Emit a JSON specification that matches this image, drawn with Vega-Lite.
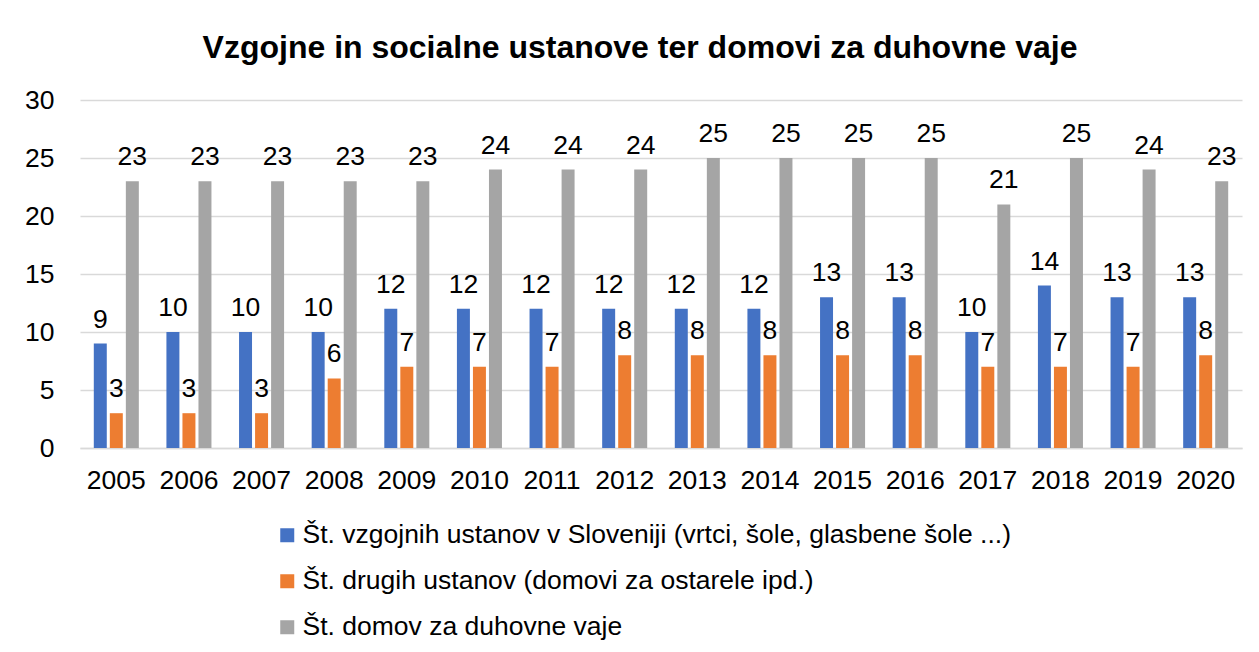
{
  "$schema": "https://vega.github.io/schema/vega-lite/v6.json",
  "width": 1162,
  "height": 348,
  "autosize": {"type": "none"},
  "padding": {"left": 80, "top": 100, "right": 17, "bottom": 204},
  "background": "white",
  "title": {
    "text": "Vzgojne in socialne ustanove ter domovi za duhovne vaje",
    "fontSize": 32,
    "fontWeight": "bold",
    "color": "#000000",
    "anchor": "middle",
    "frame": "group",
    "dx": -21,
    "offset": 22
  },
  "data": {
    "values": [
      {"year": "2005", "series": "Št. vzgojnih ustanov v Sloveniji (vrtci, šole, glasbene šole ...)", "value": 9},
      {"year": "2006", "series": "Št. vzgojnih ustanov v Sloveniji (vrtci, šole, glasbene šole ...)", "value": 10},
      {"year": "2007", "series": "Št. vzgojnih ustanov v Sloveniji (vrtci, šole, glasbene šole ...)", "value": 10},
      {"year": "2008", "series": "Št. vzgojnih ustanov v Sloveniji (vrtci, šole, glasbene šole ...)", "value": 10},
      {"year": "2009", "series": "Št. vzgojnih ustanov v Sloveniji (vrtci, šole, glasbene šole ...)", "value": 12},
      {"year": "2010", "series": "Št. vzgojnih ustanov v Sloveniji (vrtci, šole, glasbene šole ...)", "value": 12},
      {"year": "2011", "series": "Št. vzgojnih ustanov v Sloveniji (vrtci, šole, glasbene šole ...)", "value": 12},
      {"year": "2012", "series": "Št. vzgojnih ustanov v Sloveniji (vrtci, šole, glasbene šole ...)", "value": 12},
      {"year": "2013", "series": "Št. vzgojnih ustanov v Sloveniji (vrtci, šole, glasbene šole ...)", "value": 12},
      {"year": "2014", "series": "Št. vzgojnih ustanov v Sloveniji (vrtci, šole, glasbene šole ...)", "value": 12},
      {"year": "2015", "series": "Št. vzgojnih ustanov v Sloveniji (vrtci, šole, glasbene šole ...)", "value": 13},
      {"year": "2016", "series": "Št. vzgojnih ustanov v Sloveniji (vrtci, šole, glasbene šole ...)", "value": 13},
      {"year": "2017", "series": "Št. vzgojnih ustanov v Sloveniji (vrtci, šole, glasbene šole ...)", "value": 10},
      {"year": "2018", "series": "Št. vzgojnih ustanov v Sloveniji (vrtci, šole, glasbene šole ...)", "value": 14},
      {"year": "2019", "series": "Št. vzgojnih ustanov v Sloveniji (vrtci, šole, glasbene šole ...)", "value": 13},
      {"year": "2020", "series": "Št. vzgojnih ustanov v Sloveniji (vrtci, šole, glasbene šole ...)", "value": 13},
      {"year": "2005", "series": "Št. drugih ustanov (domovi za ostarele ipd.)", "value": 3},
      {"year": "2006", "series": "Št. drugih ustanov (domovi za ostarele ipd.)", "value": 3},
      {"year": "2007", "series": "Št. drugih ustanov (domovi za ostarele ipd.)", "value": 3},
      {"year": "2008", "series": "Št. drugih ustanov (domovi za ostarele ipd.)", "value": 6},
      {"year": "2009", "series": "Št. drugih ustanov (domovi za ostarele ipd.)", "value": 7},
      {"year": "2010", "series": "Št. drugih ustanov (domovi za ostarele ipd.)", "value": 7},
      {"year": "2011", "series": "Št. drugih ustanov (domovi za ostarele ipd.)", "value": 7},
      {"year": "2012", "series": "Št. drugih ustanov (domovi za ostarele ipd.)", "value": 8},
      {"year": "2013", "series": "Št. drugih ustanov (domovi za ostarele ipd.)", "value": 8},
      {"year": "2014", "series": "Št. drugih ustanov (domovi za ostarele ipd.)", "value": 8},
      {"year": "2015", "series": "Št. drugih ustanov (domovi za ostarele ipd.)", "value": 8},
      {"year": "2016", "series": "Št. drugih ustanov (domovi za ostarele ipd.)", "value": 8},
      {"year": "2017", "series": "Št. drugih ustanov (domovi za ostarele ipd.)", "value": 7},
      {"year": "2018", "series": "Št. drugih ustanov (domovi za ostarele ipd.)", "value": 7},
      {"year": "2019", "series": "Št. drugih ustanov (domovi za ostarele ipd.)", "value": 7},
      {"year": "2020", "series": "Št. drugih ustanov (domovi za ostarele ipd.)", "value": 8},
      {"year": "2005", "series": "Št. domov za duhovne vaje", "value": 23},
      {"year": "2006", "series": "Št. domov za duhovne vaje", "value": 23},
      {"year": "2007", "series": "Št. domov za duhovne vaje", "value": 23},
      {"year": "2008", "series": "Št. domov za duhovne vaje", "value": 23},
      {"year": "2009", "series": "Št. domov za duhovne vaje", "value": 23},
      {"year": "2010", "series": "Št. domov za duhovne vaje", "value": 24},
      {"year": "2011", "series": "Št. domov za duhovne vaje", "value": 24},
      {"year": "2012", "series": "Št. domov za duhovne vaje", "value": 24},
      {"year": "2013", "series": "Št. domov za duhovne vaje", "value": 25},
      {"year": "2014", "series": "Št. domov za duhovne vaje", "value": 25},
      {"year": "2015", "series": "Št. domov za duhovne vaje", "value": 25},
      {"year": "2016", "series": "Št. domov za duhovne vaje", "value": 25},
      {"year": "2017", "series": "Št. domov za duhovne vaje", "value": 21},
      {"year": "2018", "series": "Št. domov za duhovne vaje", "value": 25},
      {"year": "2019", "series": "Št. domov za duhovne vaje", "value": 24},
      {"year": "2020", "series": "Št. domov za duhovne vaje", "value": 23}
    ]
  },
  "encoding": {
    "x": {
      "field": "year",
      "type": "nominal",
      "scale": {"paddingInner": 0.38, "paddingOuter": 0.19},
      "axis": {
        "title": null,
        "labelAngle": 0,
        "labelFontSize": 26.5,
        "labelColor": "#000000",
        "labelPadding": 19,
        "ticks": false,
        "domainColor": "#d9d9d9",
        "domainWidth": 1.5,
        "grid": false
      }
    },
    "xOffset": {
      "field": "series",
      "type": "nominal",
      "scale": {
        "domain": [
          "Št. vzgojnih ustanov v Sloveniji (vrtci, šole, glasbene šole ...)",
          "Št. drugih ustanov (domovi za ostarele ipd.)",
          "Št. domov za duhovne vaje"
        ],
        "paddingInner": 0.19,
        "paddingOuter": 0
      }
    },
    "y": {
      "field": "value",
      "type": "quantitative",
      "scale": {"domain": [0, 30]},
      "axis": {
        "title": null,
        "values": [0, 5, 10, 15, 20, 25, 30],
        "labelFontSize": 26.5,
        "labelColor": "#000000",
        "labelPadding": 26,
        "ticks": false,
        "domain": false,
        "grid": true,
        "gridColor": "#d9d9d9",
        "gridWidth": 1.5
      }
    }
  },
  "layer": [
    {
      "mark": {"type": "bar"},
      "encoding": {
        "color": {
          "field": "series",
          "type": "nominal",
          "scale": {
            "domain": [
              "Št. vzgojnih ustanov v Sloveniji (vrtci, šole, glasbene šole ...)",
              "Št. drugih ustanov (domovi za ostarele ipd.)",
              "Št. domov za duhovne vaje"
            ],
            "range": ["#4472C4", "#ED7D31", "#A5A5A5"]
          },
          "legend": {
            "title": null,
            "orient": "none",
            "legendX": 194,
            "legendY": 422,
            "direction": "vertical",
            "symbolType": "square",
            "symbolSize": 196,
            "symbolStrokeWidth": 0,
            "labelFontSize": 26.5,
            "labelColor": "#000000",
            "labelLimit": 1000,
            "labelOffset": 2,
            "rowPadding": 19
          }
        }
      }
    },
    {
      "mark": {"type": "text", "baseline": "alphabetic", "dy": -16, "fontSize": 26.5, "color": "#000000"},
      "encoding": {"text": {"field": "value", "type": "quantitative"}}
    }
  ],
  "config": {
    "font": "Liberation Sans",
    "view": {"stroke": null}
  }
}
